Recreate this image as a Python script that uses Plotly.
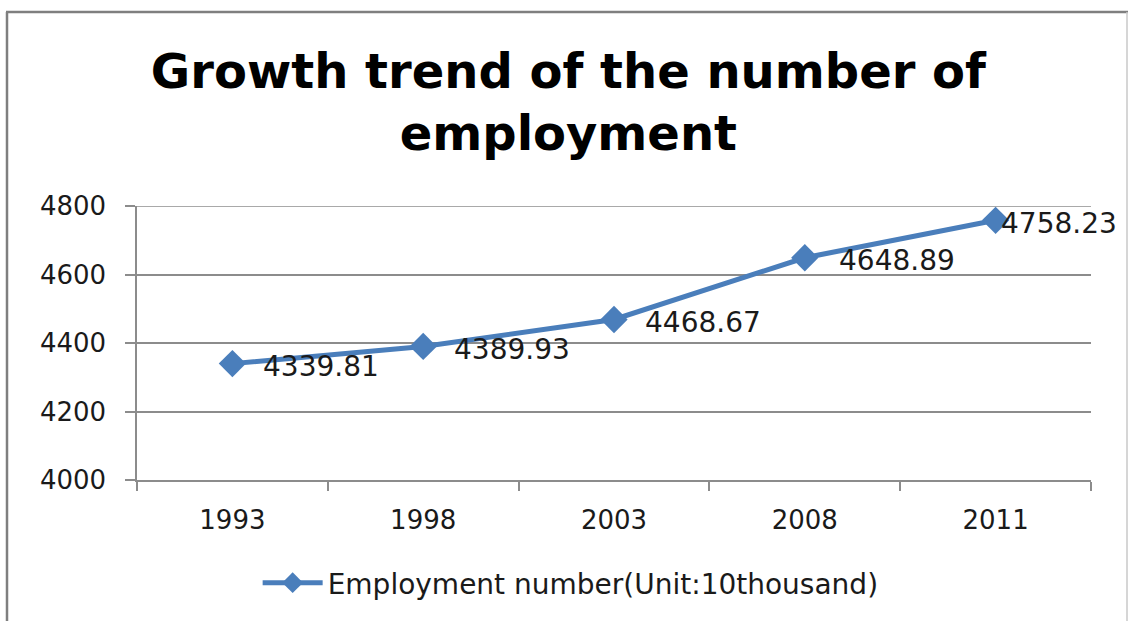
import plotly.graph_objects as go

# Employment figures (unit: 10 thousand people)
years = ["1993", "1998", "2003", "2008", "2011"]
employment = [4339.81, 4389.93, 4468.67, 4648.89, 4758.23]
y_ticks = [4000, 4200, 4400, 4600, 4800]

series_name = "Employment number(Unit:10thousand)"
title_text = "Growth trend of the number of<br>employment"

W, H = 1130, 621
M_L, M_R, M_T, M_B = 137, 39, 206, 141
PW, PH = W - M_L - M_R, H - M_T - M_B

BLUE = "#4a7ebb"
GRID = "#8c8c8c"
FONT = "DejaVu Sans"

# horizontal offset of each value label from its marker (px)
label_dx = [29, 29, 29, 32, 3]

fig = go.Figure()
fig.add_trace(go.Scatter(
    x=years, y=employment, mode="lines+markers", name=series_name,
    line=dict(color=BLUE, width=5),
    marker=dict(symbol="diamond", size=21, color=BLUE),
))

# value labels, placed by category index on the category axis
for i, (v, dx) in enumerate(zip(employment, label_dx)):
    fig.add_annotation(
        x=i, y=v, text=f"{v:.2f}", showarrow=False,
        xanchor="left", yanchor="middle", xshift=dx, yshift=-3,
        font=dict(family=FONT, size=28, color="#1a1a1a"),
    )

# top gridline at the upper end of the value axis
fig.add_shape(type="line", xref="paper", yref="y", layer="below",
              x0=0, x1=1, y0=y_ticks[-1], y1=y_ticks[-1],
              line=dict(color=GRID, width=1.5))


def px_to_paper_x(px):
    return (px - M_L) / PW


def px_to_paper_y(py):
    return (H - M_B - py) / PH


# chart frame: top and left dark grey, right lighter
fig.add_shape(type="line", xref="paper", yref="paper",
              x0=px_to_paper_x(6), x1=px_to_paper_x(1128),
              y0=px_to_paper_y(12), y1=px_to_paper_y(12),
              line=dict(color="#7f7f7f", width=2.5))
fig.add_shape(type="line", xref="paper", yref="paper",
              x0=px_to_paper_x(7), x1=px_to_paper_x(7),
              y0=px_to_paper_y(12), y1=px_to_paper_y(H + 5),
              line=dict(color="#7f7f7f", width=2.5))
fig.add_shape(type="line", xref="paper", yref="paper",
              x0=px_to_paper_x(1127), x1=px_to_paper_x(1127),
              y0=px_to_paper_y(12), y1=px_to_paper_y(H + 5),
              line=dict(color="#c8c8c8", width=1.5))

fig.update_layout(
    width=W, height=H,
    margin=dict(l=M_L, r=M_R, t=M_T, b=M_B),
    paper_bgcolor="white", plot_bgcolor="white",
    font=dict(family=FONT, color="#1a1a1a"),
    title=dict(
        text=title_text, x=0.503, xref="container", xanchor="center",
        y=1 - 88 / H, yref="container", yanchor="top",
        font=dict(family=FONT, size=48, color="black", weight="bold"),
    ),
    showlegend=True,
    legend=dict(
        orientation="h", xref="container", yref="container",
        x=0.505, xanchor="center", y=1 - 583 / H, yanchor="middle",
        font=dict(family=FONT, size=28, color="#1a1a1a"),
        itemwidth=60,
    ),
    xaxis=dict(
        type="category", range=[-0.5, 4.5],
        showgrid=False, showline=True, linecolor=GRID, linewidth=1.5,
        ticks="outside", tickson="boundaries", ticklen=9, tickcolor=GRID,
        tickwidth=1.5, ticklabelstandoff=16,
        tickfont=dict(family=FONT, size=26, color="#1a1a1a"),
        fixedrange=True,
    ),
    yaxis=dict(
        range=[4000, 4800], tickvals=y_ticks,
        showgrid=True, gridcolor=GRID, gridwidth=1.5,
        showline=True, linecolor=GRID, linewidth=1.5,
        ticks="outside", ticklen=10, tickcolor=GRID, tickwidth=1.5,
        ticklabelstandoff=14, zeroline=False,
        tickfont=dict(family=FONT, size=26, color="#1a1a1a"),
        fixedrange=True,
    ),
)

fig.write_html("out.html")
